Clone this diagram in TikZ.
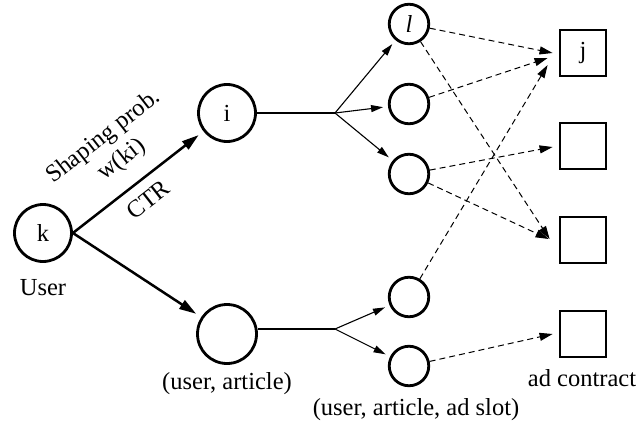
\documentclass[tikz,border=0pt]{standalone}
\usepackage{fontspec}
\setmainfont{Liberation Serif}
\usetikzlibrary{arrows.meta,calc}
\begin{document}
\begin{tikzpicture}[x=1pt,y=-1pt,
  every node/.style={font=\fontsize{24.5}{29}\selectfont},
  bigc/.style={circle,draw,line width=2.8pt,minimum size=57pt,inner sep=0pt},
  smallc/.style={circle,draw,line width=2.8pt,minimum size=39.5pt,inner sep=0pt},
  sq/.style={rectangle,draw,line width=2.8pt,minimum size=46pt,inner sep=0pt},
  lbl/.style={inner sep=0pt},
  thickarr/.style={line width=2.5pt,-{Triangle[length=17pt,width=10pt]},shorten >=6pt},
  thinarr/.style={line width=1.1pt,-{Triangle[length=12pt,width=7pt]},shorten >=5pt},
  thinline/.style={line width=1.1pt},
  dasharr/.style={line width=1pt,dash pattern=on 6pt off 4pt,-{Triangle[length=13pt,width=8pt]}}
]
\useasboundingbox (0,0) rectangle (637,428);
% nodes
\node[bigc] (k) at (43,233) {k};
\node[bigc] (i) at (227,113) {i};
\node[bigc,minimum size=59pt] (ua) at (227,334) {};
\node[smallc] (l) at (409,24) {\textit{l}};
\node[smallc] (c2) at (409,104) {};
\node[smallc] (c3) at (409,174) {};
\node[smallc] (c4) at (409,297) {};
\node[smallc] (c5) at (409,366) {};
\node[sq] (j) at (583,53) {j};
\node[sq] (s2) at (583,146) {};
\node[sq] (s3) at (583,240) {};
\node[sq] (s4) at (583,334) {};
\coordinate (f1) at (335,113);
\coordinate (f2) at (335,329);
% labels
\node[lbl] (user) at (43,288) {User};
\node[lbl] (ualbl) at (227,384) {(user, article)};
\node[lbl] (ualsl) at (416,410) {(user, article, ad slot)};
\node[lbl] (adc) at (582,378) {ad contract};
\node[lbl,rotate=38] (shp) at (104,137) {Shaping prob.};
\node[lbl,rotate=38] (wki) at (122,160) {w(ki)};
\node[lbl,rotate=38] (ctr) at (148,200) {CTR};
% thick arrows
\draw[thickarr] (k.east) -- (i);
\draw[thickarr] (k.east) -- (ua);
% fans
\draw[thinline] (i) -- (f1);
\draw[thinarr] (f1) -- (l);
\draw[thinarr] (f1) -- (c2);
\draw[thinarr] (f1) -- (c3);
\draw[thinline] (ua.east |- f2) -- (f2);
\draw[thinarr] (f2) -- (c4);
\draw[thinarr] (f2) -- (c5);
% dashed
\draw[dasharr] (l) -- ($(j.west)+(-6,0)$);
\draw[dasharr] (l) -- ($(s3.west)+(-9,-1)$);
\draw[dasharr] (c2) -- ($(j.west)+(-11,5)$);
\draw[dasharr] (c3) -- ($(s2.west)+(-6,1)$);
\draw[dasharr] (c3) -- ($(s3.west)+(-10,-1)$);
\draw[dasharr] (c4) -- ($(j.west)+(-11,12)$);
\draw[dasharr] (c5) -- ($(s4.west)+(-6,0)$);
\end{tikzpicture}
\end{document}
